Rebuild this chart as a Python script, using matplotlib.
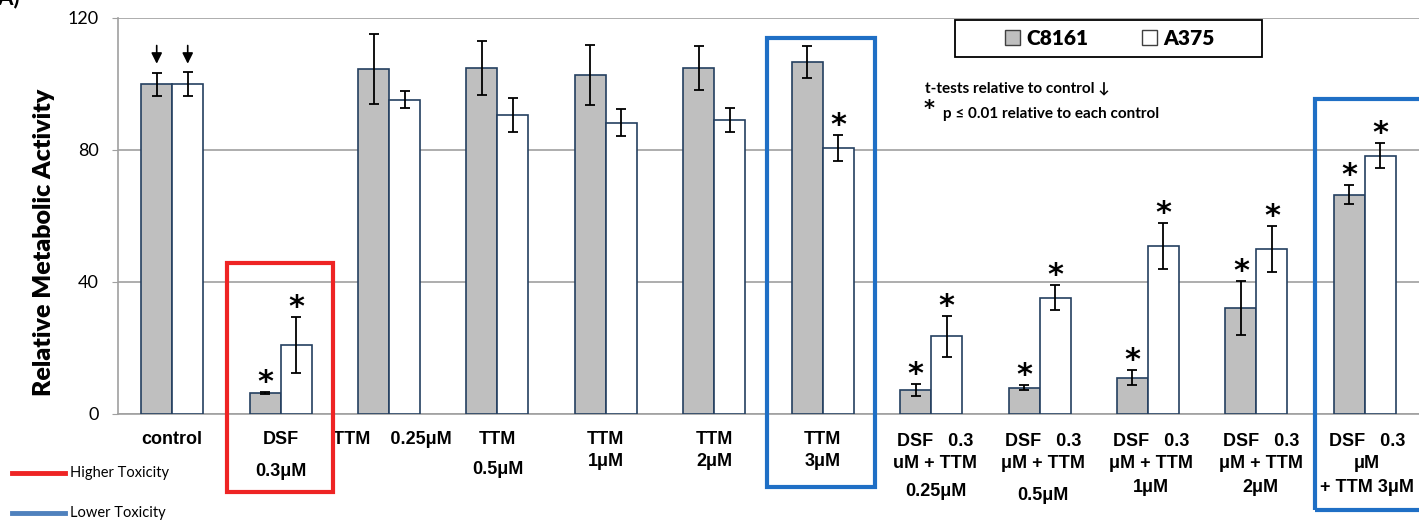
import numpy as np
import matplotlib.pyplot as plt
from matplotlib.patches import Rectangle
from matplotlib.lines import Line2D
from matplotlib.transforms import blended_transform_factory

# values (relative metabolic activity, % of control)
c8161 = [99.9, 6.5, 104.5, 104.9, 102.7, 104.8, 106.6, 7.3, 8.0, 11.0, 32.1, 66.5]
c8161_err = [3.4, 0.3, 10.7, 8.2, 9.2, 6.6, 4.9, 1.9, 0.8, 2.3, 8.1, 2.8]
a375 = [100.0, 20.9, 95.3, 90.7, 88.3, 89.1, 80.6, 23.5, 35.2, 51.0, 50.0, 78.3]
a375_err = [3.6, 8.6, 2.7, 5.2, 4.1, 3.6, 3.9, 6.2, 3.8, 7.0, 7.0, 3.8]
c8161_sig = [0, 1, 0, 0, 0, 0, 0, 1, 1, 1, 1, 1]
a375_sig = [0, 1, 0, 0, 0, 0, 1, 1, 1, 1, 1, 1]

group_labels = [
    ["control"],
    ["DSF", "0.3μM"],
    ["TTM    0.25μM"],
    ["TTM", "0.5μM"],
    ["TTM", "1μM"],
    ["TTM", "2μM"],
    ["TTM", "3μM"],
    ["DSF   0.3", "uM + TTM", "0.25μM"],
    ["DSF   0.3", "μM + TTM", "0.5μM"],
    ["DSF   0.3", "μM + TTM", "1μM"],
    ["DSF   0.3", "μM + TTM", "2μM"],
    ["DSF   0.3", "μM", "+ TTM 3μM"],
]
yticks = [0, 40, 80, 120]

# label line heights (pixels from top of image) and small x nudges
label_rows = [[440], [440, 471], [440], [440, 470], [440, 462], [440, 462],
              [440, 462], [441, 463, 492], [441, 463, 496], [441, 463, 487],
              [441, 463, 487], [441, 463, 487]]
label_dx = [0, 0, 0.03, 0, 0, 0, 0, 0.04, 0.03, 0.03, 0.04, 0.02]

W, H = 1419, 520
fig = plt.figure(figsize=(W / 100, H / 100), dpi=100)
ax = fig.add_axes([118 / W, 1 - 414 / H, 1 - 118 / W, 396 / H])

x = np.arange(len(c8161))
bw = 0.286
edge = '#243F60'
ax.bar(x - bw / 2, c8161, bw, color='#BFBFBF', edgecolor=edge, linewidth=1.2, zorder=3)
ax.bar(x + bw / 2, a375, bw, color='white', edgecolor=edge, linewidth=1.2, zorder=3)
ax.errorbar(x - bw / 2, c8161, yerr=c8161_err, fmt='none', ecolor='black',
            elinewidth=1.3, capsize=3.6, capthick=1.3, zorder=4)
ax.errorbar(x + bw / 2, a375, yerr=a375_err, fmt='none', ecolor='black',
            elinewidth=1.3, capsize=3.6, capthick=1.3, zorder=4)

# significance stars
for vals, errs, sig, off in [(c8161, c8161_err, c8161_sig, -bw / 2),
                             (a375, a375_err, a375_sig, bw / 2)]:
    for i in range(len(vals)):
        if sig[i]:
            ax.text(i + off, vals[i] + errs[i] - 1.5, '*', ha='center', va='bottom',
                    fontsize=22, fontweight='bold', fontfamily='DejaVu Sans', zorder=5)

# control arrows
for off in (-bw / 2, bw / 2):
    ax.annotate('', xy=(off, 105.3), xytext=(off, 112.5),
                arrowprops=dict(arrowstyle='-|>', color='black', lw=1.2,
                                mutation_scale=16))

ax.set_xlim(-0.5, 11.5)
ax.set_ylim(0, 120)
ax.set_yticks(yticks)
ax.set_xticks([])
ax.grid(axis='y', color='#A0A0A0', linewidth=1.2, zorder=0)
for s in ['top', 'right']:
    ax.spines[s].set_visible(False)
ax.spines['left'].set_color('#A0A0A0')
ax.spines['bottom'].set_color('#A0A0A0')
ax.spines['left'].set_linewidth(1.2)
ax.spines['bottom'].set_linewidth(1.2)
ax.tick_params(axis='y', length=4, color='#A0A0A0', pad=10, labelsize=13)
for t in ax.get_yticklabels():
    t.set_fontfamily('Lato')

# category labels below the axis
trans = blended_transform_factory(ax.transData, fig.transFigure)
for i, lines in enumerate(group_labels):
    for txt, row in zip(lines, label_rows[i]):
        ax.text(i + label_dx[i], 1 - row / H, txt, transform=trans, ha='center',
                va='center', fontsize=13, fontweight='bold',
                fontfamily='Liberation Sans', clip_on=False)

fig.text(44 / W, 1 - 242 / H, 'Relative Metabolic Activity', rotation=90,
         ha='center', va='center', fontsize=18, fontweight='heavy', fontfamily='Lato')

# legend, with its box drawn separately
handles = [Rectangle((0, 0), 1, 1, facecolor='#BFBFBF', edgecolor='#404040', lw=1),
           Rectangle((0, 0), 1, 1, facecolor='white', edgecolor='#404040', lw=1)]
ax.legend(handles, ['C8161', 'A375'], ncol=2, loc='center',
          bbox_to_anchor=(1110 / W, 1 - 38.5 / H), bbox_transform=fig.transFigure,
          frameon=False, handlelength=0.7, handleheight=0.7, handletextpad=0.3,
          columnspacing=2.6, borderaxespad=0,
          prop={'family': 'Lato', 'weight': 'heavy', 'size': 15})
fig.add_artist(Rectangle((955 / W, 1 - 57 / H), 307 / W, 37 / H,
                         transform=fig.transFigure, fill=False, edgecolor='black',
                         linewidth=1.3))

fig.text(925 / W, 1 - 88 / H, 't-tests relative to control ↓', ha='left', va='center',
         fontsize=11, fontweight='bold', family=['Lato', 'DejaVu Sans'])
fig.text(924 / W, 1 - 109 / H, '*', ha='left', va='center', fontsize=15,
         fontweight='bold', fontfamily='DejaVu Sans')
fig.text(943 / W, 1 - 114 / H, 'p ≤ 0.01 relative to each control', ha='left',
         va='center', fontsize=11, fontweight='bold', family=['Lato', 'DejaVu Sans'])

# highlight boxes (red = higher toxicity, blue = lower toxicity)
boxes = [((227, 263), (333, 492), '#EE2424'),
         ((767, 38), (875, 487), '#1F6FC5'),
         ((1315, 99), (1440, 510), '#1F6FC5')]
for (x0, y0), (x1, y1), col in boxes:
    fig.add_artist(Rectangle((x0 / W, 1 - y1 / H), (x1 - x0) / W, (y1 - y0) / H,
                             transform=fig.transFigure, fill=False, edgecolor=col,
                             linewidth=3, zorder=10))

# toxicity key bottom left
fig.add_artist(Line2D([12 / W, 65 / W], [1 - 473 / H] * 2, color='#EE2424', lw=3.5))
fig.text(70 / W, 1 - 473 / H, 'Higher Toxicity', ha='left', va='center', fontsize=10.5,
         fontfamily='Lato')
fig.add_artist(Line2D([12 / W, 65 / W], [1 - 513 / H] * 2, color='#4F81BD', lw=3.5))
fig.text(70 / W, 1 - 513 / H, 'Lower Toxicity', ha='left', va='center', fontsize=10.5,
         fontfamily='Lato')

fig.text(0.014, 1.025, '(A)', ha='right', va='top', fontsize=16, fontweight='bold',
         fontfamily='Lato')

fig.savefig('out.png', dpi=100)
